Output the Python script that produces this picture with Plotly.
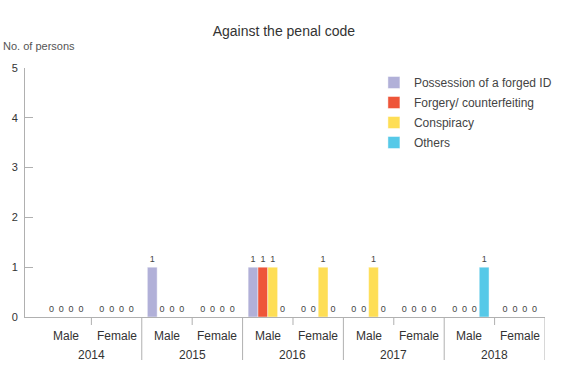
import plotly.graph_objects as go

years = ["2014", "2014", "2015", "2015", "2016", "2016", "2017", "2017", "2018", "2018"]
genders = ["Male", "Female"] * 5

series_names = ["Possession of a forged ID", "Forgery/ counterfeiting", "Conspiracy", "Others"]
possession = [0, 0, 1, 0, 1, 0, 0, 0, 0, 0]
forgery = [0, 0, 0, 0, 1, 0, 0, 0, 0, 0]
conspiracy = [0, 0, 0, 0, 1, 1, 1, 0, 0, 0]
others = [0, 0, 0, 0, 0, 0, 0, 0, 1, 0]
colors = ["#b1b0d8", "#ee5539", "#fede55", "#56c9e8"]

y_ticks = [0, 1, 2, 3, 4, 5]

FONT = "Liberation Sans, Arial, sans-serif"
AXIS_COLOR = "#b0b0b0"
PLOT_H = 249.0

fig = go.Figure()
for name, vals, c in zip(series_names, [possession, forgery, conspiracy, others], colors):
    fig.add_trace(go.Bar(
        x=[years, genders], y=vals, name=name, legendgroup=name,
        marker=dict(color=c, line=dict(color="rgba(255,255,255,0.45)", width=1)),
        text=[str(v) for v in vals], textposition="outside", cliponaxis=False,
        textfont=dict(size=9, color="#444", family=FONT),
    ))

# category labels, ticks and year dividers positioned on the category axis
n = len(years)
for i, g in enumerate(genders):
    fig.add_annotation(x=i, y=-19 / PLOT_H, xref="x", yref="paper", text=g, showarrow=False,
                       xanchor="center", yanchor="middle", font=dict(size=12, color="#333", family=FONT))
year_order = []
for y in years:
    if y not in year_order:
        year_order.append(y)
for y in year_order:
    idx = [i for i, v in enumerate(years) if v == y]
    fig.add_annotation(x=(idx[0] + idx[-1]) / 2, y=-38 / PLOT_H, xref="x", yref="paper", text=y,
                       showarrow=False, xanchor="center", yanchor="middle",
                       font=dict(size=12, color="#333", family=FONT))
for i in range(n):
    boundary = i + 0.5
    is_year_end = (i == n - 1) or (years[i] != years[i + 1])
    depth = 43 if is_year_end else 8
    fig.add_shape(type="line", xref="x", yref="paper", x0=boundary, x1=boundary, y0=0, y1=-depth / PLOT_H,
                  line=dict(color=AXIS_COLOR, width=1))

fig.update_layout(
    width=561, height=370,
    margin=dict(l=25, r=16, t=68, b=53, autoexpand=False),
    paper_bgcolor="white", plot_bgcolor="white",
    barmode="group", bargap=0.22, bargroupgap=0,
    font=dict(family=FONT, color="#333"),
    title=dict(text="Against the penal code", x=0.506, xanchor="center", y=0.915, yanchor="middle",
               font=dict(size=14, color="#333", family=FONT)),
    showlegend=True,
    legend=dict(x=0.671, y=1.0, xanchor="left", yanchor="top", font=dict(size=12, color="#444", family=FONT),
                bgcolor="rgba(0,0,0,0)", itemwidth=30, tracegroupgap=1),
    xaxis=dict(type="multicategory", range=[-0.817, n - 0.5], showline=True, linecolor=AXIS_COLOR, linewidth=1,
               ticks="", showgrid=False, zeroline=False, showticklabels=False,
               automargin=False, showdividers=False),
    yaxis=dict(range=[0, 5], tickvals=y_ticks, showline=True, linecolor=AXIS_COLOR, linewidth=1,
               ticks="inside", ticklen=8, tickcolor=AXIS_COLOR, showgrid=False, zeroline=False,
               automargin=False, ticklabelstandoff=4,
               tickfont=dict(size=11, color="#333", family=FONT)),
)
fig.add_annotation(text="No. of persons", xref="paper", yref="paper", x=-24 / 520, y=1.09,
                   xanchor="left", yanchor="middle", showarrow=False,
                   font=dict(size=11, color="#555", family=FONT))
fig.write_html("out.html", config={"displayModeBar": False},
               post_script="document.body.style.margin='0';")
